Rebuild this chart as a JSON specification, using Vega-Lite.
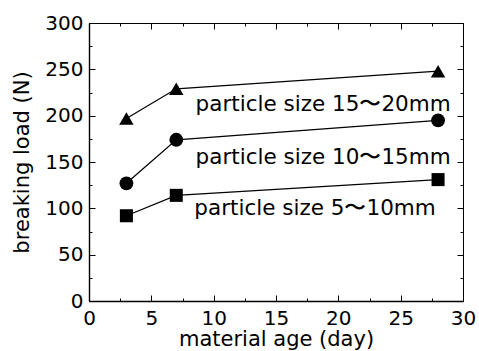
{
  "$schema": "https://vega.github.io/schema/vega-lite/v6.json",
  "width": 374,
  "height": 278,
  "autosize": {"type": "none"},
  "padding": {"left": 89, "top": 23, "right": 16, "bottom": 50},
  "background": "white",
  "config": {
    "font": "DejaVu Sans",
    "view": {"stroke": "black", "strokeWidth": 1},
    "axis": {
      "grid": false,
      "domainColor": "black",
      "domainWidth": 1.4,
      "tickColor": "black",
      "tickWidth": 1,
      "labelColor": "black",
      "labelFontSize": 20,
      "titleColor": "black",
      "titleFontSize": 21,
      "titleFontWeight": "normal",
      "labelFlush": false,
      "labelOverlap": false
    }
  },
  "datasets": {
    "loads": [
      {"day": 3, "load": 92, "series": "5〜10"},
      {"day": 7, "load": 114, "series": "5〜10"},
      {"day": 28, "load": 131, "series": "5〜10"},
      {"day": 3, "load": 127, "series": "10〜15"},
      {"day": 7, "load": 174, "series": "10〜15"},
      {"day": 28, "load": 195, "series": "10〜15"},
      {"day": 3, "load": 197, "series": "15〜20"},
      {"day": 7, "load": 229, "series": "15〜20"},
      {"day": 28, "load": 248, "series": "15〜20"}
    ],
    "notes": [
      {"day": 8.55, "load": 212, "label": "particle size 15〜20mm"},
      {"day": 8.55, "load": 154, "label": "particle size 10〜15mm"},
      {"day": 8.45, "load": 99, "label": "particle size 5〜10mm"}
    ]
  },
  "layer": [
    {
      "data": {"name": "loads"},
      "mark": {"type": "line", "color": "black", "strokeWidth": 1.3},
      "encoding": {
        "x": {
          "field": "day", "type": "quantitative",
          "scale": {"domain": [0, 30], "nice": false, "zero": false},
          "axis": {
            "orient": "bottom",
            "title": "material age (day)",
            "values": [0, 2.5, 5, 7.5, 10, 12.5, 15, 17.5, 20, 22.5, 25, 27.5, 30],
            "labelExpr": "datum.value % 5 === 0 ? datum.label : ''",
            "tickSize": {"condition": {"test": "datum.value % 5 === 0", "value": -6}, "value": -3},
            "labelPadding": 13,
            "titlePadding": -3
          }
        },
        "y": {
          "field": "load", "type": "quantitative",
          "scale": {"domain": [0, 300], "nice": false},
          "axis": {
            "orient": "left",
            "title": "breaking load (N)",
            "values": [0, 25, 50, 75, 100, 125, 150, 175, 200, 225, 250, 275, 300],
            "labelExpr": "datum.value % 50 === 0 ? datum.label : ''",
            "tickSize": {"condition": {"test": "datum.value % 50 === 0", "value": -6}, "value": -3},
            "labelPadding": 12,
            "titlePadding": 12
          }
        },
        "detail": {"field": "series"}
      }
    },
    {
      "data": {"name": "loads"},
      "mark": {"type": "point", "filled": true, "opacity": 1, "color": "black"},
      "encoding": {
        "x": {
          "field": "day", "type": "quantitative",
          "axis": {
            "orient": "top",
            "title": null,
            "labels": false,
            "domain": false,
            "values": [0, 2.5, 5, 7.5, 10, 12.5, 15, 17.5, 20, 22.5, 25, 27.5, 30],
            "tickSize": {"condition": {"test": "datum.value % 5 === 0", "value": -6}, "value": -3}
          }
        },
        "y": {
          "field": "load", "type": "quantitative",
          "axis": {
            "orient": "right",
            "title": null,
            "labels": false,
            "domain": false,
            "values": [0, 25, 50, 75, 100, 125, 150, 175, 200, 225, 250, 275, 300],
            "tickSize": {"condition": {"test": "datum.value % 50 === 0", "value": -6}, "value": -3}
          }
        },
        "shape": {
          "field": "series", "type": "nominal",
          "scale": {"domain": ["5〜10", "10〜15", "15〜20"], "range": ["square", "circle", "triangle-up"]},
          "legend": null
        },
        "size": {
          "field": "series", "type": "nominal",
          "scale": {"domain": ["5〜10", "10〜15", "15〜20"], "range": [170, 210, 290]},
          "legend": null
        }
      }
    },
    {
      "data": {"name": "notes"},
      "mark": {"type": "text", "align": "left", "baseline": "middle", "fontSize": 21.5, "color": "black"},
      "encoding": {
        "x": {"field": "day", "type": "quantitative", "axis": null},
        "y": {"field": "load", "type": "quantitative", "axis": null},
        "text": {"field": "label"}
      }
    }
  ],
  "resolve": {"axis": {"x": "independent", "y": "independent"}}
}
